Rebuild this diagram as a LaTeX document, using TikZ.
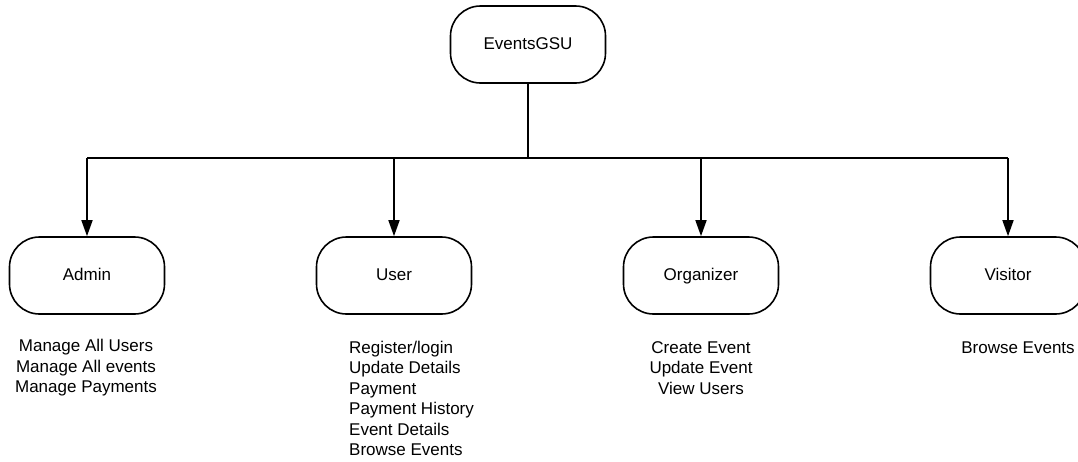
\documentclass[tikz,border=0pt]{standalone}
\usepackage{fontspec}
\setmainfont{Liberation Sans}
\usetikzlibrary{arrows.meta}

\tikzset{
  role/.style={draw, line width=1.6pt, rounded corners=30pt,
    minimum width=155pt, minimum height=77pt, inner sep=0pt,
    text height=12.5pt, text depth=3.5pt,
    font=\fontsize{17}{20.5}\selectfont},
  tasks/.style={inner sep=0pt, font=\fontsize{17}{20.5}\selectfont},
  link/.style={line width=1.6pt},
  feed/.style={link, -{Triangle[length=16pt,width=11pt]}}
}

\begin{document}
\begin{tikzpicture}[x=1pt, y=-1pt]
    \useasboundingbox (0,0) rectangle (1078,461);

    % Root and the four roles (one row, 307 apart)
    \node[role] (root) at (528, 44.5) {EventsGSU};
    \node[role] (admin) at (87, 275.5) {Admin};
    \node[role] (user) at (394, 275.5) {User};
    \node[role] (organizer) at (701, 275.5) {Organizer};
    \node[role] (visitor) at (1008, 275.5) {Visitor};

    % Bus line under the root
    \coordinate (bus) at (528, 158);
    \draw[link] (root.south) -- (bus);
    \draw[link] (admin |- bus) -- (visitor |- bus);
    \foreach \r in {admin, user, organizer, visitor}
        \draw[feed] (\r |- bus) -- (\r.north);

    % Task lists
    \node[tasks, align=center] (admintasks) at (86, 368) {Manage All Users\\Manage All events\\Manage Payments};
    \node[tasks, align=left, anchor=west] (usertasks) at (349, 398.5) {Register/login\\Update Details\\Payment\\Payment History\\Event Details\\Browse Events};
    \node[tasks, align=center] (organizertasks) at (701, 368) {Create Event\\Update Event\\View Users};
    \node[tasks] (visitortasks) at (1018, 348) {Browse Events};
\end{tikzpicture}
\end{document}
